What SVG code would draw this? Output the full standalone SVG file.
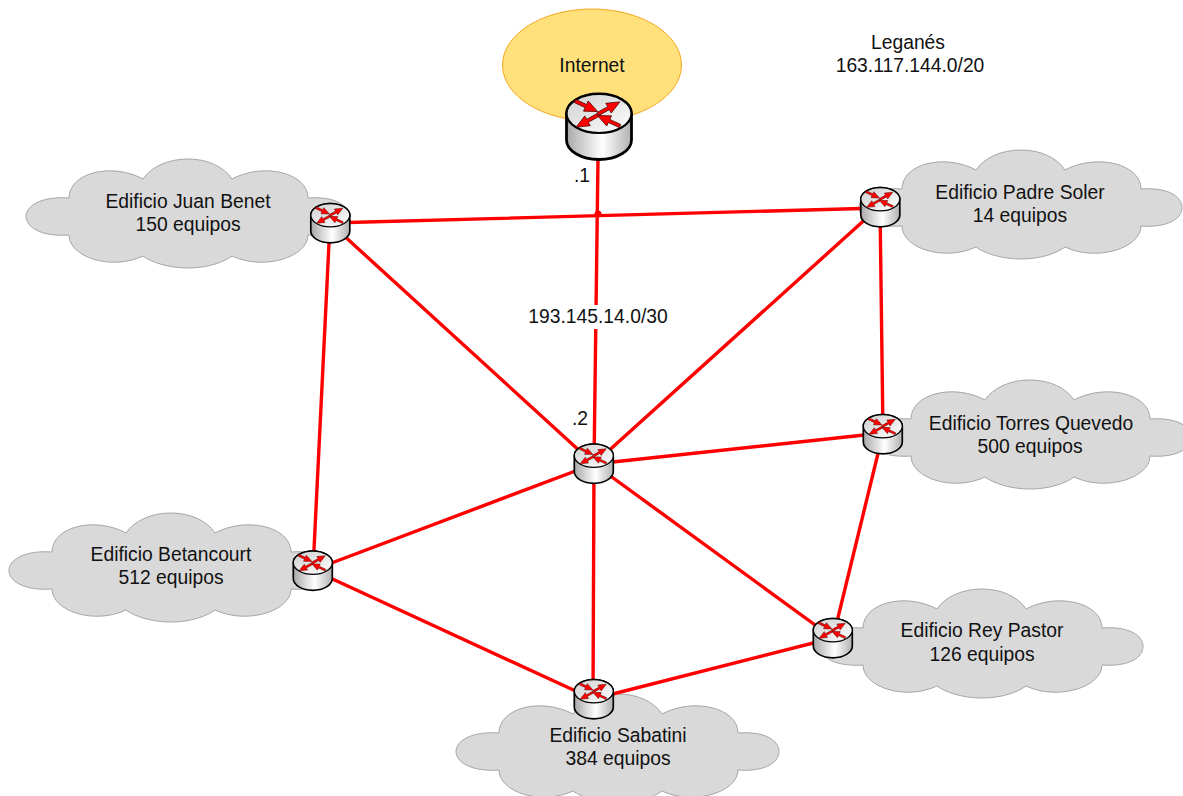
<svg xmlns="http://www.w3.org/2000/svg" width="1183" height="796" viewBox="0 0 1183 796">
<style>
text{font-family:"Liberation Sans",Arial,sans-serif;font-size:19.3px;fill:#111;text-anchor:middle}
.cloud{fill:#d9d9d9;stroke:#a6a6a6;stroke-width:1}
.link{stroke:#ff0000;stroke-width:3.4;fill:none}
.arr{fill:#ff0000;stroke:#4a0000;stroke-width:.7}
</style>
<defs>
<linearGradient id="side" x1="0" x2="1" y1="0" y2="0"><stop offset="0" stop-color="#a8a8a8"/><stop offset=".55" stop-color="#ffffff"/><stop offset="1" stop-color="#b0b0b0"/></linearGradient>
<linearGradient id="top" x1="0" x2="1" y1="0" y2="1"><stop offset="0" stop-color="#cfcfcf"/><stop offset="1" stop-color="#ffffff"/></linearGradient>
<path id="cl" class="cloud" d="M43 39C43 14 85 3 117 20C125 8 142 0 162 0C182 0 198 8 206 20C238 3 282 14 282 39C310 37 323 47 323 57.500C323 68 310 78 282 76C282 98 238 112 206 97C198 103 182 109 162 109C142 109 125 103 117 97C85 112 43 98 43 76C15 78 0 68 0 57.500C0 47 15 37 43 39Z"/>
<polygon id="ar" class="arr" points="0,-1.700 12,-1.700 12,-5.600 25,0 12,5.600 12,1.700 0,1.700"/>
<g id="router">
<path d="M.5 19.500A32.500 19.500 0 0 1 65.500 19.500V46A32.500 19.500 0 0 1 .5 46Z" fill="url(#side)" stroke="#000" stroke-width="2.800"/>
<ellipse cx="33" cy="19.500" rx="32.500" ry="19.500" fill="url(#top)" stroke="#000" stroke-width="2.200"/>
<use href="#ar" transform="translate(9 7) rotate(25)"/>
<use href="#ar" transform="translate(32 20) rotate(-29)"/>
<use href="#ar" transform="translate(32 21) rotate(151)"/>
<use href="#ar" transform="translate(54 32) rotate(205)"/>
</g>
</defs>
<g id="clouds">
<g id="cloud-juan"><use href="#cl" x="26" y="159"/><text x="188" y="208">Edificio Juan Benet</text><text x="188" y="231">150 equipos</text></g>
<g id="cloud-padre"><use href="#cl" x="859" y="150"/><text x="1020" y="199">Edificio Padre Soler</text><text x="1020" y="222">14 equipos</text></g>
<g id="cloud-torres"><use href="#cl" x="868" y="380"/><text x="1031" y="430">Edificio Torres Quevedo</text><text x="1030" y="453">500 equipos</text></g>
<g id="cloud-betancourt"><use href="#cl" x="9" y="513"/><text x="171" y="561">Edificio Betancourt</text><text x="171" y="584">512 equipos</text></g>
<g id="cloud-rey"><use href="#cl" x="820" y="589"/><text x="982" y="637">Edificio Rey Pastor</text><text x="982" y="661">126 equipos</text></g>
<g id="cloud-sabatini"><use href="#cl" x="456" y="694"/><text x="618" y="742">Edificio Sabatini</text><text x="618" y="765">384 equipos</text></g>
</g>
<g id="internet"><ellipse cx="592" cy="65" rx="89.500" ry="56" fill="#ffe07a" stroke="#f5a623" stroke-width="1"/><text x="592" y="72">Internet</text></g>
<g id="connectors">
<path class="link" d="M598 158L594 464M330 223L880 208M330 223L594 464M880 206L594 464M880 206L883 433M883 433L594 464M883 433L833 638M594 464L833 638M594 464L593 699M594 464L313 570M330 223L313 570M313 570L593 699M593 699L833 638"/>
<circle cx="598" cy="214" r="3.500" fill="#ff0000"/>
</g>
<g id="routers">
<use id="r-internet" href="#router" x="566" y="94"/>
<use id="r-juan" href="#router" transform="translate(310.500 203.500) scale(.6)"/>
<use id="r-padre" href="#router" transform="translate(860.500 187.500) scale(.6)"/>
<use id="r-torres" href="#router" transform="translate(863 414.500) scale(.6)"/>
<use id="r-centro" href="#router" transform="translate(574 444) scale(.6)"/>
<use id="r-betancourt" href="#router" transform="translate(293 551) scale(.6)"/>
<use id="r-rey" href="#router" transform="translate(813 618.500) scale(.6)"/>
<use id="r-sabatini" href="#router" transform="translate(574 679.500) scale(.6)"/>
</g>
<g id="labels">
<text x="908" y="49">Leganés</text><text x="910" y="72">163.117.144.0/20</text>
<text x="582" y="182">.1</text><text x="580" y="425">.2</text>
<rect x="530" y="305" width="138" height="24" fill="#fff"/>
<text x="598" y="323">193.145.14.0/30</text>
</g>
</svg>
